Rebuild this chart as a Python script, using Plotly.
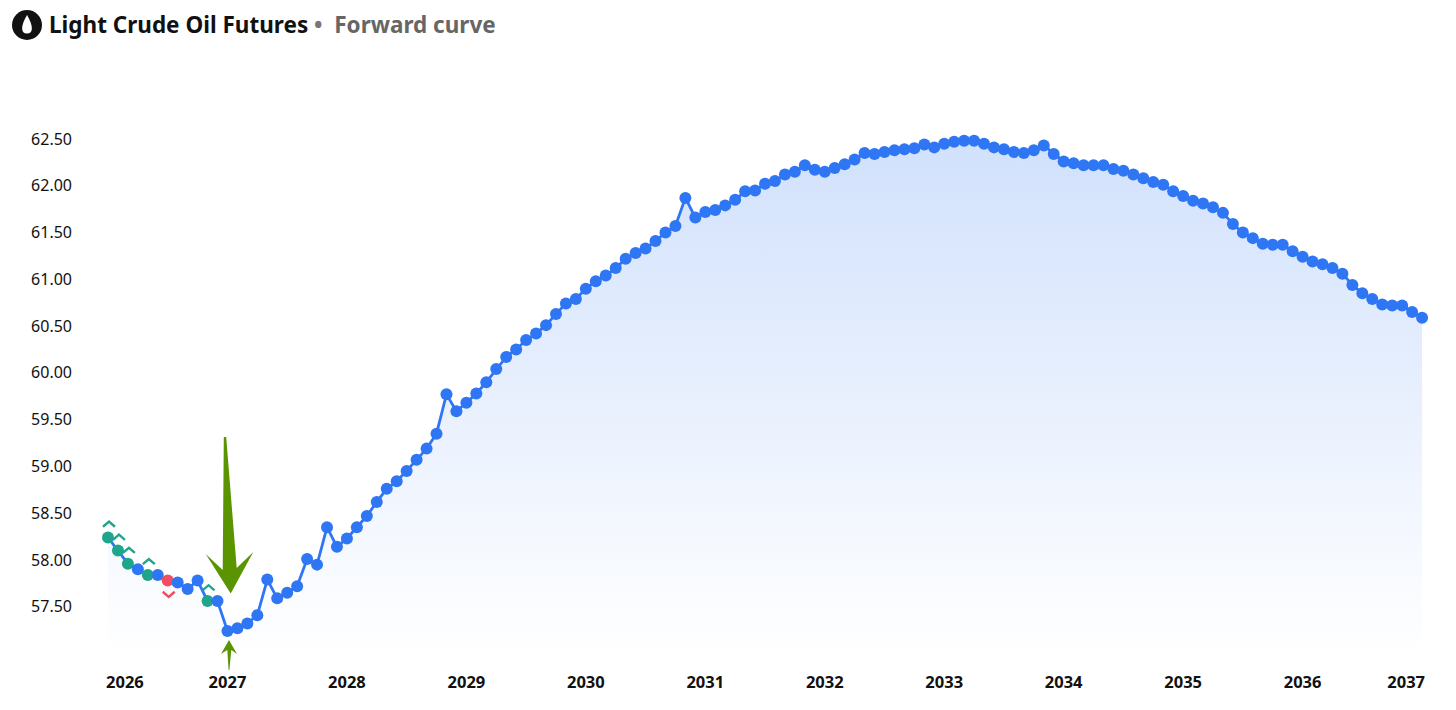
import plotly.graph_objects as go

prices = [
    58.24, 58.10, 57.96, 57.90, 57.84, 57.84, 57.78, 57.76, 57.69, 57.78, 57.56, 57.56,
    57.24, 57.27, 57.32, 57.41, 57.79, 57.59, 57.65, 57.72, 58.01, 57.95, 58.35, 58.14,
    58.23, 58.35, 58.47, 58.62, 58.76, 58.84, 58.95, 59.07, 59.19, 59.35, 59.77, 59.59,
    59.68, 59.78, 59.90, 60.04, 60.17, 60.25, 60.35, 60.42, 60.51, 60.63, 60.74, 60.79,
    60.90, 60.98, 61.04, 61.12, 61.22, 61.28, 61.33, 61.41, 61.50, 61.57, 61.87, 61.66,
    61.72, 61.74, 61.79, 61.85, 61.94, 61.95, 62.02, 62.05, 62.12, 62.15, 62.22, 62.17,
    62.15, 62.19, 62.23, 62.28, 62.35, 62.34, 62.36, 62.38, 62.39, 62.40, 62.44, 62.41,
    62.45, 62.47, 62.48, 62.48, 62.45, 62.41, 62.39, 62.36, 62.35, 62.38, 62.43, 62.34,
    62.26, 62.24, 62.22, 62.22, 62.22, 62.18, 62.16, 62.12, 62.08, 62.04, 62.01, 61.94,
    61.89, 61.84, 61.81, 61.77, 61.71, 61.59, 61.50, 61.44, 61.38, 61.37, 61.37, 61.30,
    61.24, 61.19, 61.16, 61.12, 61.06, 60.94, 60.85, 60.79, 60.73, 60.72, 60.72, 60.65,
    60.59,
]
up_months = [0, 1, 2, 4, 10]
down_months = [6]
year_labels = ["2026", "2027", "2028", "2029", "2030", "2031", "2032", "2033", "2034", "2035", "2036", "2037"]
year_label_months = [1.7, 12, 24, 36, 48, 60, 72, 84, 96, 108, 120, 130.4]
price_ticks = [57.5, 58.0, 58.5, 59.0, 59.5, 60.0, 60.5, 61.0, 61.5, 62.0, 62.5]

W, H = 1456, 710
ML, MR, MT, MB = 85, 22, 60, 55
BLUE, GREEN, RED, ARROW = "#2E76F3", "#1FA58C", "#F24C60", "#5A9400"
FONT = "Noto Sans"


def px(x, y):
    return (x - ML) / (W - ML - MR), (H - MB - y) / (H - MT - MB)


def path(points):
    out = []
    for i, (x, y) in enumerate(points):
        a, b = px(x, y)
        out.append(("M" if i == 0 else "L") + f"{a:.5f},{b:.5f}")
    return " ".join(out) + " Z"


months = list(range(len(prices)))
colors = [GREEN if i in up_months else RED if i in down_months else BLUE for i in months]


def chevrons(idx, near, far):
    xs, ys = [], []
    for i in idx:
        xs += [i - 0.5, i + 0.1, i + 0.7, None]
        ys += [prices[i] + near, prices[i] + far, prices[i] + near, None]
    return xs, ys


fig = go.Figure()
fig.add_trace(go.Scatter(
    x=months, y=prices, mode="lines+markers", fill="tozeroy",
    fillgradient=dict(type="vertical", start=56.98, stop=62.5,
                      colorscale=[[0, "rgba(46,118,243,0.0)"], [1, "rgba(46,118,243,0.22)"]]),
    line=dict(color=BLUE, width=2.8),
    marker=dict(color=colors, size=12, line=dict(width=0)),
    showlegend=False, hoverinfo="skip",
))
ux, uy = chevrons(up_months, 0.115, 0.17)
fig.add_trace(go.Scatter(x=ux, y=uy, mode="lines", line=dict(color=GREEN, width=2.4),
                         showlegend=False, hoverinfo="skip"))
dx, dy = chevrons(down_months, -0.12, -0.175)
fig.add_trace(go.Scatter(x=dx, y=dy, mode="lines", line=dict(color=RED, width=2.4),
                         showlegend=False, hoverinfo="skip"))

big_arrow = [(223.8, 437), (226.2, 437), (236.7, 568), (253.3, 552), (230.7, 593.5), (205.7, 554), (222.7, 570)]
small_arrow = [(229, 640), (237, 654), (231.3, 650), (229.4, 670), (228.6, 670), (227.3, 650), (221, 654)]
shapes = [
    dict(type="path", xref="paper", yref="paper", path=path(big_arrow), fillcolor=ARROW, line=dict(width=0), layer="above"),
    dict(type="path", xref="paper", yref="paper", path=path(small_arrow), fillcolor=ARROW, line=dict(width=0), layer="above"),
]
cx0, cy0 = px(12, 40)
cx1, cy1 = px(42, 10)
shapes.append(dict(type="circle", xref="paper", yref="paper", x0=cx0, y0=cy0, x1=cx1, y1=cy1,
                   fillcolor="#111111", line=dict(width=0), layer="above"))
d0 = px(27, 15)
d1 = px(20.5, 26)
d2 = px(20.5, 33.5)
d3 = px(33.5, 33.5)
d4 = px(33.5, 26)
shapes.append(dict(type="path", xref="paper", yref="paper",
                   path=f"M{d0[0]:.5f},{d0[1]:.5f} C{d1[0]:.5f},{d1[1]:.5f} {d2[0]:.5f},{d2[1]:.5f} {px(27,33.5)[0]:.5f},{px(27,33.5)[1]:.5f} "
                        f"C{d3[0]:.5f},{d3[1]:.5f} {d4[0]:.5f},{d4[1]:.5f} {d0[0]:.5f},{d0[1]:.5f} Z",
                   fillcolor="#FFFFFF", line=dict(width=0), layer="above"))

tx, ty = px(47, 25)
fig.update_layout(
    width=W, height=H, margin=dict(l=ML, r=MR, t=MT, b=MB, autoexpand=False),
    paper_bgcolor="#FFFFFF", plot_bgcolor="#FFFFFF",
    font=dict(family=FONT, color="#111111"),
    shapes=shapes,
    annotations=[dict(
        xref="paper", yref="paper", x=tx, y=ty, xanchor="left", yanchor="middle", showarrow=False,
        text="<b>Light Crude Oil Futures</b>\u00a0<span style='color:#777777'><b>•</b></span>\u00a0\u00a0"
             "<span style='color:#666666'><b>Forward curve</b></span>",
        font=dict(family=FONT, size=22.5, color="#111111"),
    )],
    xaxis=dict(
        range=[(ML - 108) / 9.955, (W - MR - 108) / 9.955],
        tickmode="array", tickvals=year_label_months, ticktext=[f"<b>{t}</b>" for t in year_labels],
        showgrid=False, zeroline=False, showline=False, ticks="",
        tickfont=dict(family=FONT, size=16.5, color="#111111"), ticklabelstandoff=15,
    ),
    yaxis=dict(
        range=[56.984, 63.344],
        tickmode="array", tickvals=price_ticks, tickformat=".2f",
        showgrid=False, zeroline=False, showline=False, ticks="",
        tickfont=dict(family=FONT, size=16, color="#111111"), ticklabelstandoff=12,
    ),
)
fig.write_html("out.html", post_script="document.body.style.margin='0';",
               config={"displayModeBar": False})
